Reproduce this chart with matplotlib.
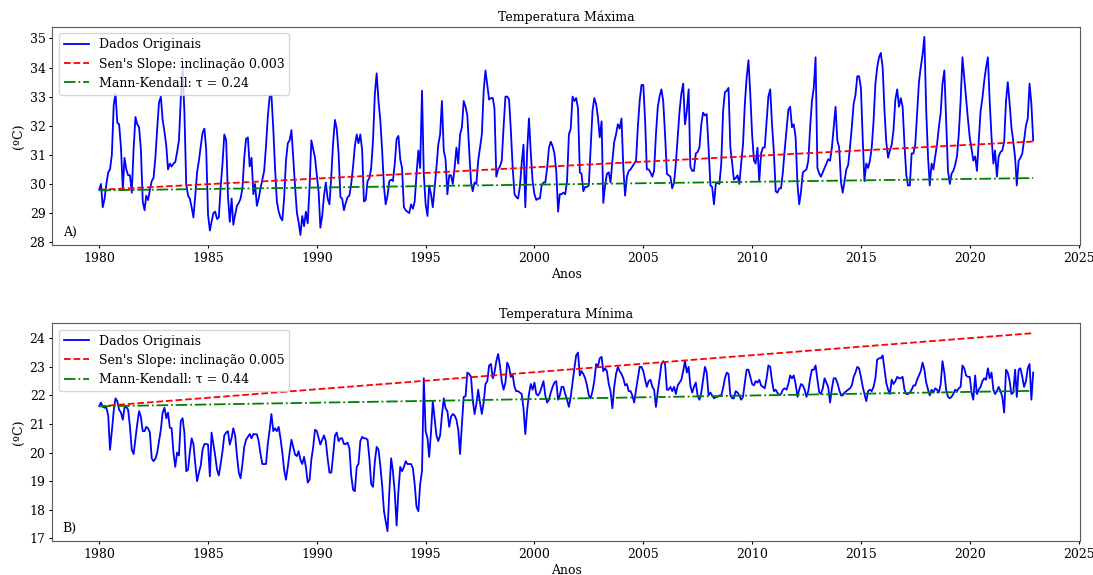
"""
    Temperatura maxima e minima mensal (1980-2022) com as
    tendencias de Sen's Slope e Mann-Kendall.
"""

import matplotlib.pyplot as plt
import pandas as pd
from matplotlib.ticker import MultipleLocator

# Temperatura maxima mensal (ºC), uma linha por ano
tmax_1980s = [
    29.8, 30.0, 29.2, 29.5, 30.0, 30.4, 30.5, 31.0, 32.7, 33.1, 32.1, 32.05,
    31.25, 29.8, 30.9, 30.5, 30.3, 30.3, 29.7, 31.2, 32.3, 32.05, 31.95, 31.2,
    29.4, 29.1, 29.6, 29.45, 29.8, 30.1, 30.2, 30.9, 31.9, 32.8, 33.0, 32.2,
    31.8, 31.3, 30.5, 30.7, 30.6, 30.7, 30.75, 31.1, 31.5, 32.9, 33.95, 32.5,
    30.0, 29.6, 29.5, 29.2, 28.85, 29.6, 30.4, 30.8, 31.3, 31.75, 31.9, 31.2,
    28.95, 28.4, 28.7, 29.0, 29.05, 28.8, 28.85, 29.9, 30.7, 31.7, 31.5, 29.6,
    28.7, 29.5, 28.6, 28.95, 29.25, 29.35, 29.5, 29.85, 30.9, 31.55, 31.6, 30.6,
    30.9, 29.65, 30.0, 29.25, 29.5, 29.85, 30.15, 30.45, 31.3, 32.3, 33.0, 33.05,
    31.9, 30.5, 29.4, 29.05, 28.85, 28.75, 29.5, 30.8, 31.4, 31.5, 31.85, 30.9,
    29.9, 29.0, 28.7, 28.25, 28.9, 28.55, 29.05, 28.65, 29.9, 31.5, 31.2, 30.9,
]
tmax_1990s = [
    30.3, 29.7, 28.5, 28.9, 29.6, 30.05, 29.5, 29.3, 30.3, 31.4, 32.2, 31.9,
    31.05, 29.55, 29.5, 29.1, 29.35, 29.55, 29.6, 30.0, 30.6, 31.3, 31.7, 31.4,
    31.7, 31.15, 29.4, 29.45, 30.1, 30.2, 30.55, 31.5, 33.1, 33.8, 32.85, 32.2,
    31.15, 29.9, 29.3, 29.6, 30.1, 30.15, 30.1, 30.7, 31.55, 31.65, 30.85, 30.55,
    29.2, 29.1, 29.05, 29.0, 29.3, 29.15, 29.4, 30.35, 31.15, 30.55, 33.2, 30.35,
    29.3, 28.9, 29.95, 29.65, 29.2, 29.9, 30.55, 31.35, 31.7, 32.85, 31.15, 30.85,
    29.65, 30.3, 30.3, 30.0, 30.55, 31.25, 30.7, 31.7, 31.95, 32.85, 32.65, 32.35,
    31.15, 30.05, 29.75, 30.05, 30.0, 30.8, 31.25, 31.7, 33.2, 33.9, 33.4, 32.9,
    32.95, 32.95, 32.6, 30.25, 30.5, 30.6, 30.8, 31.95, 33.0, 33.0, 32.9, 31.85,
    30.55, 29.65, 29.55, 29.5, 29.9, 30.7, 31.35, 29.2, 31.15, 32.25, 31.05, 30.1,
]
tmax_2000s = [
    29.65, 29.45, 29.5, 29.5, 29.95, 30.05, 30.05, 30.55, 31.25, 31.45, 31.3, 31.05,
    30.45, 29.05, 29.65, 29.65, 29.7, 29.65, 30.1, 31.7, 31.9, 33.0, 32.85, 32.95,
    32.6, 30.4, 30.35, 29.75, 29.9, 29.9, 29.95, 31.25, 32.5, 32.95, 32.75, 32.3,
    31.6, 32.15, 29.35, 29.95, 30.35, 30.4, 30.05, 30.8, 31.45, 31.7, 32.05, 31.9,
    32.25, 30.55, 29.6, 30.25, 30.45, 30.5, 30.6, 30.7, 30.8, 31.95, 32.85, 33.4,
    33.4, 32.15, 30.5, 30.5, 30.4, 30.25, 30.45, 31.7, 32.65, 33.0, 33.25, 32.85,
    31.7, 30.35, 30.3, 30.25, 29.85, 30.05, 30.7, 31.6, 32.5, 33.1, 33.45, 32.05,
    32.5, 33.25, 30.6, 30.45, 30.45, 31.05, 31.1, 31.25, 32.05, 32.45, 32.35, 32.4,
    31.25, 29.95, 29.9, 29.3, 30.0, 30.05, 30.0, 30.7, 32.5, 33.15, 33.2, 33.3,
    31.25, 30.7, 30.15, 30.2, 30.3, 30.0, 30.7, 31.35, 32.75, 33.65, 34.25, 33.1,
]
tmax_2010s = [
    31.7, 30.8, 30.7, 31.25, 30.1, 31.05, 31.25, 31.25, 32.15, 33.0, 33.25, 32.05,
    31.1, 29.75, 29.7, 29.85, 29.85, 30.4, 31.15, 31.85, 32.55, 32.65, 31.95, 32.05,
    31.6, 30.0, 29.3, 29.75, 30.4, 30.45, 30.5, 30.8, 31.95, 32.85, 33.3, 34.35,
    30.55, 30.35, 30.25, 30.4, 30.55, 30.7, 30.85, 30.8, 31.25, 31.95, 32.65, 31.5,
    31.25, 30.05, 29.7, 30.1, 30.5, 30.65, 31.25, 31.95, 32.75, 33.05, 33.7, 33.7,
    33.3, 31.5, 30.1, 30.7, 30.55, 30.8, 31.25, 32.15, 33.45, 34.0, 34.35, 34.5,
    34.0, 32.5, 31.45, 30.9, 31.15, 31.35, 31.85, 32.9, 33.25, 32.65, 32.95, 32.65,
    31.35, 30.3, 29.95, 29.95, 31.05, 31.05, 31.35, 32.4, 33.5, 34.0, 34.45, 35.05,
    32.5, 30.9, 29.95, 30.7, 30.5, 30.95, 31.35, 31.95, 32.45, 33.45, 33.9, 32.15,
    30.45, 30.0, 30.35, 30.45, 30.65, 30.95, 31.7, 32.85, 34.35, 33.65, 32.95, 32.25,
]
tmax_2020s = [
    31.6, 31.2, 30.8, 30.95, 30.45, 31.5, 32.5, 32.95, 33.55, 34.0, 34.35, 32.85,
    31.6, 30.7, 31.15, 30.25, 30.95, 31.1, 31.15, 31.45, 32.85, 33.5, 32.75, 31.95,
    31.45, 30.9, 29.95, 30.8, 30.9, 31.05, 31.5, 32.0, 32.25, 33.45, 32.75, 31.5,
]

# Temperatura minima mensal (ºC)
tmin_1980s = [
    21.63, 21.75, 21.6, 21.57, 21.57, 21.3, 20.1, 20.75, 21.46, 21.9, 21.8, 21.5,
    21.4, 21.15, 21.57, 21.6, 21.5, 20.9, 20.1, 19.95, 20.5, 21.0, 21.45, 21.25,
    20.75, 20.75, 20.9, 20.85, 20.7, 19.8, 19.7, 19.78, 20.0, 20.4, 20.8, 21.4,
    21.57, 21.2, 21.4, 20.87, 20.85, 20.0, 19.5, 20.0, 19.9, 21.1, 21.2, 20.7,
    19.35, 19.4, 20.0, 20.5, 20.3, 19.6, 19.0, 19.3, 19.55, 20.1, 20.3, 20.3,
    20.28, 19.17, 20.7, 20.3, 19.9, 19.4, 19.2, 19.6, 20.05, 20.6, 20.7, 20.75,
    20.28, 20.52, 20.85, 20.6, 19.9, 19.3, 19.1, 19.6, 20.2, 20.45, 20.55, 20.65,
    20.5, 20.65, 20.64, 20.64, 20.4, 19.95, 19.6, 19.6, 19.6, 20.3, 20.8, 21.35,
    20.75, 20.85, 20.75, 20.9, 20.5, 20.0, 19.4, 19.05, 19.5, 20.0, 20.45, 20.2,
    19.93, 19.88, 20.05, 19.75, 19.6, 19.85, 19.5, 18.95, 19.05, 19.75, 20.2, 20.8,
]
tmin_1990s = [
    20.75, 20.5, 20.28, 20.45, 20.6, 20.4, 19.8, 19.3, 19.3, 19.9, 20.6, 20.7,
    20.4, 20.5, 20.5, 20.3, 20.3, 20.35, 20.15, 19.2, 18.7, 18.65, 19.5, 19.6,
    20.4, 20.55, 20.5, 20.5, 20.45, 19.8, 18.9, 18.8, 19.7, 20.2, 20.1, 19.55,
    18.85, 17.95, 17.6, 17.25, 18.6, 19.8, 19.35, 18.6, 17.45, 18.65, 19.5, 19.35,
    19.5, 19.7, 19.6, 19.6, 19.6, 19.45, 18.9, 18.1, 17.95, 18.9, 19.35, 22.6,
    20.75, 20.5, 19.85, 20.7, 21.8, 21.2, 20.6, 20.4, 20.6, 21.3, 21.9, 21.55,
    21.45, 20.9, 21.25, 21.35, 21.3, 21.15, 20.8, 19.95, 21.0, 21.95, 21.97, 22.8,
    22.75, 22.65, 21.85, 21.35, 21.7, 22.2, 21.75, 21.35, 21.75, 22.4, 22.5, 23.05,
    23.1, 22.6, 22.8, 23.2, 23.45, 23.05, 22.5, 22.2, 22.45, 23.15, 23.0, 22.65,
    22.7, 22.3, 22.15, 22.15, 22.1, 22.05, 21.55, 20.65, 21.5, 22.05, 22.4, 22.2,
]
tmin_2000s = [
    22.45, 22.05, 22.0, 22.1, 22.3, 22.5, 22.0, 21.75, 21.85, 22.1, 22.3, 22.45,
    22.5, 21.85, 22.0, 22.3, 22.3, 22.05, 21.85, 21.6, 21.95, 22.45, 22.95, 23.4,
    23.5, 22.7, 22.85, 22.75, 22.6, 22.35, 22.0, 21.9, 22.15, 22.5, 23.1, 23.0,
    23.3, 23.35, 22.85, 22.95, 22.85, 22.4, 22.15, 21.55, 22.3, 22.75, 23.0, 22.85,
    22.75, 22.6, 22.35, 22.4, 22.15, 22.15, 22.0, 21.75, 22.2, 22.6, 23.0, 23.0,
    22.85, 22.55, 22.3, 22.5, 22.55, 22.3, 22.2, 21.6, 22.15, 22.6, 23.1, 23.2,
    23.1, 22.2, 22.2, 22.3, 22.15, 22.3, 22.05, 22.35, 22.45, 22.55, 22.85, 23.2,
    22.8, 23.0, 22.35, 22.1, 22.3, 22.45, 22.0, 21.85, 22.1, 22.55, 23.0, 22.8,
    22.0, 22.1, 22.0, 21.9, 21.95, 21.95, 22.0, 22.0, 22.25, 22.6, 22.8, 22.75,
    22.0, 21.9, 21.9, 22.15, 22.1, 22.0, 21.85, 21.95, 22.45, 22.9, 22.9, 22.65,
]
tmin_2010s = [
    22.4, 22.35, 22.5, 22.45, 22.55, 22.35, 22.3, 22.25, 22.6, 23.05, 23.0, 22.5,
    22.15, 22.2, 22.1, 22.0, 22.05, 22.2, 22.25, 22.2, 22.4, 22.7, 22.6, 22.7,
    22.4, 21.95, 22.2, 22.4, 22.35, 22.2, 21.95, 22.15, 22.6, 22.9, 22.9, 23.05,
    22.55, 22.1, 22.05, 22.25, 22.6, 22.45, 22.3, 21.75, 22.25, 22.6, 22.6, 22.45,
    22.2, 22.0, 22.0, 22.1, 22.15, 22.2, 22.25, 22.35, 22.65, 22.8, 23.0, 22.95,
    22.65, 22.3, 22.05, 21.8, 22.15, 22.2, 22.15, 22.3, 22.6, 23.25, 23.3, 23.3,
    23.4, 22.9, 22.45, 22.2, 22.05, 22.55, 22.4, 22.5, 22.65, 22.6, 22.6, 22.65,
    22.2, 22.05, 22.05, 22.1, 22.2, 22.35, 22.35, 22.55, 22.7, 22.85, 23.15, 22.9,
    22.45, 22.2, 22.0, 22.2, 22.1, 22.25, 22.2, 22.1, 22.4, 23.2, 22.8, 22.2,
    21.95, 21.9, 21.95, 22.05, 22.2, 22.15, 22.25, 22.3, 23.05, 22.95, 22.7, 22.65,
]
tmin_2020s = [
    22.65, 22.1, 21.85, 22.7, 22.05, 22.2, 22.3, 22.5, 22.6, 22.55, 22.95, 22.6,
    22.8, 22.2, 22.05, 22.15, 22.3, 22.15, 21.95, 21.4, 22.9, 22.8, 22.5, 22.05,
    22.1, 22.9, 21.95, 22.9, 22.95, 22.65, 22.3, 22.5, 22.95, 23.1, 21.85, 22.8,
]

# Tendencias (valor inicial e inclinacao por mes)
sen_max = (29.8, 0.00322)
mk_max = (29.78, 0.00082)
sen_min = (21.62, 0.00497)
mk_min = (21.62, 0.00105)

labels_max = ["Dados Originais", "Sen's Slope: inclinação 0.003",
              "Mann-Kendall: τ = 0.24"]
labels_min = ["Dados Originais", "Sen's Slope: inclinação 0.005",
              "Mann-Kendall: τ = 0.44"]

plt.rcParams['font.family'] = ['DejaVu Serif']
plt.rcParams['font.size'] = 9
plt.rcParams['xtick.major.size'] = 2.5
plt.rcParams['ytick.major.size'] = 2.5
plt.rcParams['xtick.major.pad'] = 2.5
plt.rcParams['ytick.major.pad'] = 2.5
plt.rcParams['axes.edgecolor'] = '0.35'


def plot_panel(ax, dates, values, sen, mk, labels, title, tag):
    n = range(len(values))
    ax.plot(dates, values, color='blue', lw=1.3, label=labels[0])
    ax.plot(dates, [sen[0] + sen[1] * i for i in n], '--', color='red',
            lw=1.3, label=labels[1])
    ax.plot(dates, [mk[0] + mk[1] * i for i in n], '-.', color='green',
            lw=1.3, label=labels[2])
    ax.yaxis.set_major_locator(MultipleLocator(1))
    ax.set_title(title, fontsize=9, pad=4)
    ax.set_xlabel('Anos', labelpad=2)
    ax.set_ylabel('(ºC)', labelpad=3)
    ax.legend(loc='upper left', fontsize=9)
    ax.text(0.01, 0.04, tag, transform=ax.transAxes, fontsize=9)


if __name__ == "__main__":
    tmax = tmax_1980s + tmax_1990s + tmax_2000s + tmax_2010s + tmax_2020s
    tmin = tmin_1980s + tmin_1990s + tmin_2000s + tmin_2010s + tmin_2020s
    dates = pd.date_range('1980-01-01', periods=len(tmax), freq='MS')

    fig, (ax1, ax2) = plt.subplots(2, 1, figsize=(10.93, 5.75), dpi=100)
    fig.subplots_adjust(left=0.048, right=0.988, top=0.953, bottom=0.059,
                        hspace=0.36)

    plot_panel(ax1, dates, tmax, sen_max, mk_max, labels_max,
               'Temperatura Máxima', 'A)')
    plot_panel(ax2, dates, tmin, sen_min, mk_min, labels_min,
               'Temperatura Mínima', 'B)')

    fig.savefig('out.png', dpi=100)
